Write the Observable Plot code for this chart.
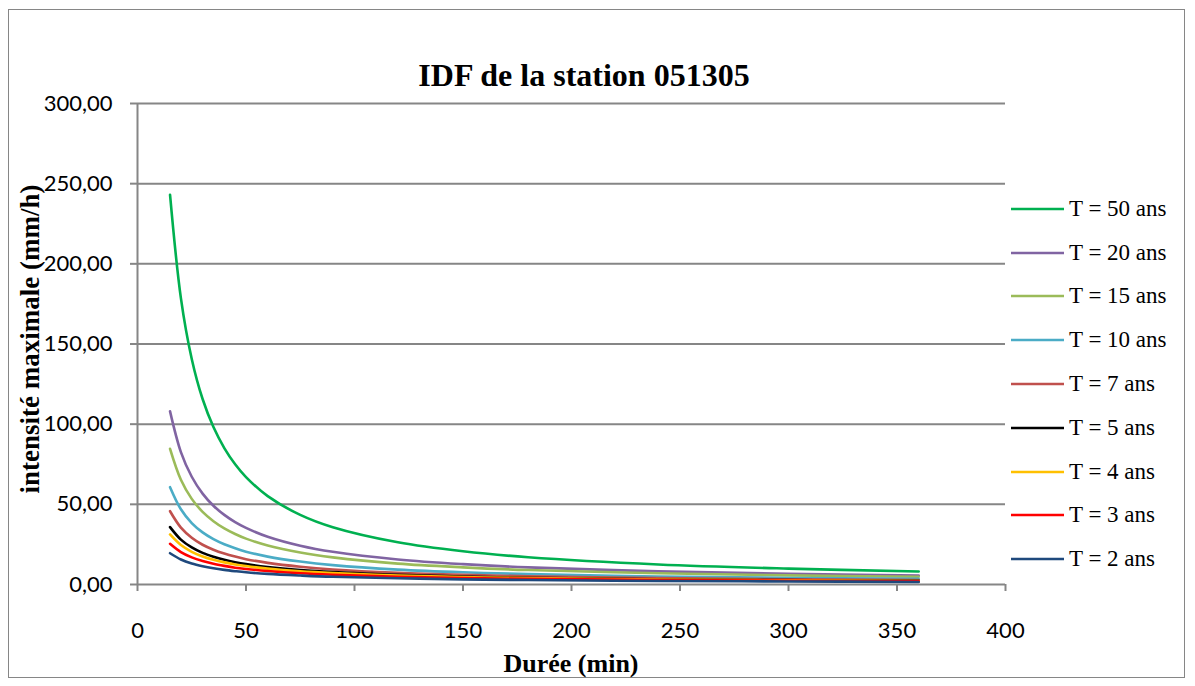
<!DOCTYPE html>
<html>
<head>
<meta charset="utf-8">
<script src="https://cdn.jsdelivr.net/npm/d3@7"></script>
<script src="https://cdn.jsdelivr.net/npm/@observablehq/plot@0.6"></script>
<style>
  html, body { margin: 0; padding: 0; background: #fff; }
  #wrap { position: relative; width: 1195px; height: 686px; overflow: hidden; }
  #border { position: absolute; left: 8px; top: 9px; width: 1177px; height: 669px; border: 1.5px solid #868686; box-sizing: border-box; }
  #chart { position: absolute; left: 0; top: 0; }
  .ttl { position: absolute; font-family: "Liberation Serif", "Times New Roman", serif; font-weight: bold; color: #000; white-space: nowrap; }
  #title { left: 0; width: 1168px; text-align: center; top: 55px; font-size: 32px; line-height: 40px; }
  #xtitle { left: 0; width: 1142px; text-align: center; top: 648px; font-size: 26px; line-height: 32px; }
  #ytitle { left: 30px; top: 339px; font-size: 27px; line-height: 30px; transform: translate(-50%, -50%) rotate(-90deg); }
  #legend { position: absolute; left: 1011px; top: 187px; font-family: "Liberation Serif", "Times New Roman", serif; font-size: 23px; color: #000; }
  .item { height: 43.8px; display: flex; align-items: center; white-space: nowrap; }
  .item svg { margin-right: 5px; }
  g[aria-label="x-axis tick label"] text, g[aria-label="y-axis tick label"] text { fill: #000; }
</style>
</head>
<body>
<div id="wrap">
  <div id="border"></div>
  <div id="chart"></div>
  <div class="ttl" id="title">IDF de la station 051305</div>
  <div class="ttl" id="xtitle">Durée (min)</div>
  <div class="ttl" id="ytitle">intensité maximale (mm/h)</div>
  <div id="legend"></div>
</div>
<script>
// Durations (min)
const durations = [15, 20, 25, 30, 35, 40, 45, 50, 60, 75, 90, 120, 150, 180, 240, 300, 360];

// Maximum intensities (mm/h) per return period
const t50 = [243.0, 178.6, 140.7, 115.7, 98.2, 85.1, 75.0, 67.0, 55.1, 43.4, 35.7, 26.3, 20.7, 17.0, 12.5, 9.9, 8.1];
const t20 = [108.0, 82.6, 67.2, 56.7, 49.1, 43.4, 38.9, 35.3, 29.8, 24.2, 20.4, 15.6, 12.7, 10.7, 8.2, 6.7, 5.6];
const t15 = [84.6, 65.3, 53.4, 45.3, 39.5, 35.0, 31.5, 28.6, 24.3, 19.9, 16.9, 13.0, 10.7, 9.0, 7.0, 5.7, 4.8];
const t10 = [60.7, 46.9, 38.3, 32.5, 28.3, 25.1, 22.6, 20.5, 17.4, 14.3, 12.1, 9.3, 7.6, 6.5, 5.0, 4.1, 3.5];
const t7  = [45.7, 35.5, 29.2, 24.8, 21.7, 19.3, 17.4, 15.8, 13.5, 11.1, 9.4, 7.3, 6.0, 5.1, 4.0, 3.3, 2.8];
const t5  = [35.8, 28.0, 23.1, 19.7, 17.3, 15.4, 13.9, 12.7, 10.9, 9.0, 7.7, 6.0, 4.9, 4.2, 3.3, 2.7, 2.3];
const t4  = [31.2, 24.6, 20.4, 17.5, 15.4, 13.8, 12.5, 11.5, 9.9, 8.2, 7.1, 5.6, 4.6, 4.0, 3.1, 2.6, 2.2];
const t3  = [25.4, 20.2, 16.9, 14.6, 12.9, 11.6, 10.5, 9.7, 8.4, 7.0, 6.1, 4.8, 4.0, 3.5, 2.8, 2.3, 2.0];
const t2  = [19.5, 15.6, 13.1, 11.4, 10.1, 9.1, 8.3, 7.6, 6.6, 5.6, 4.8, 3.9, 3.2, 2.8, 2.2, 1.9, 1.6];

const seriesNames = ["T = 50 ans", "T = 20 ans", "T = 15 ans", "T = 10 ans", "T = 7 ans", "T = 5 ans", "T = 4 ans", "T = 3 ans", "T = 2 ans"];
const seriesValues = [t50, t20, t15, t10, t7, t5, t4, t3, t2];
const seriesColors = ["#00B050", "#8064A2", "#9BBB59", "#4BACC6", "#C0504D", "#000000", "#FFC000", "#FF0000", "#1F497D"];

const xTicks = [0, 50, 100, 150, 200, 250, 300, 350, 400];
const yTicks = [0, 50, 100, 150, 200, 250, 300];

const data = [];
seriesNames.forEach((name, i) => {
  durations.forEach((d, j) => data.push({serie: name, duree: d, intensite: seriesValues[i][j]}));
});

const grid = "#868686";
const fmtY = d => d.toFixed(2).replace(".", ",");

const chart = Plot.plot({
  width: 1195,
  height: 686,
  marginLeft: 137,
  marginRight: 190,
  marginTop: 103,
  marginBottom: 102,
  style: {fontFamily: "Lato, 'Open Sans', sans-serif", fontSize: "22px", color: "#000", background: "transparent"},
  x: {domain: [0, 400], ticks: xTicks},
  y: {domain: [0, 300], ticks: yTicks},
  color: {domain: seriesNames, range: seriesColors},
  marks: [
    Plot.ruleY(yTicks, {stroke: grid, strokeWidth: 2}),
    Plot.ruleX([0], {stroke: grid, strokeWidth: 2}),
    ...seriesNames.map(name =>
      Plot.line(data.filter(d => d.serie === name), {
        x: "duree", y: "intensite", stroke: "serie", strokeWidth: 2.6, curve: "catmull-rom"
      })
    ),
    Plot.axisX({ticks: xTicks, tickSize: 7, tickPadding: 31, stroke: grid, strokeWidth: 2, strokeOpacity: 1, label: null, tickFormat: d => String(d)}),
    Plot.axisY({ticks: yTicks, tickSize: 7, tickPadding: 18, stroke: grid, strokeWidth: 2, strokeOpacity: 1, label: null, tickFormat: fmtY})
  ]
});
document.getElementById("chart").appendChild(chart);

const legend = document.getElementById("legend");
seriesNames.forEach((name, i) => {
  const row = document.createElement("div");
  row.className = "item";
  row.innerHTML = `<svg width="53" height="6"><line x1="0" y1="3" x2="53" y2="3" stroke="${seriesColors[i]}" stroke-width="2.6"/></svg><span>${name}</span>`;
  legend.appendChild(row);
});
</script>
</body>
</html>
